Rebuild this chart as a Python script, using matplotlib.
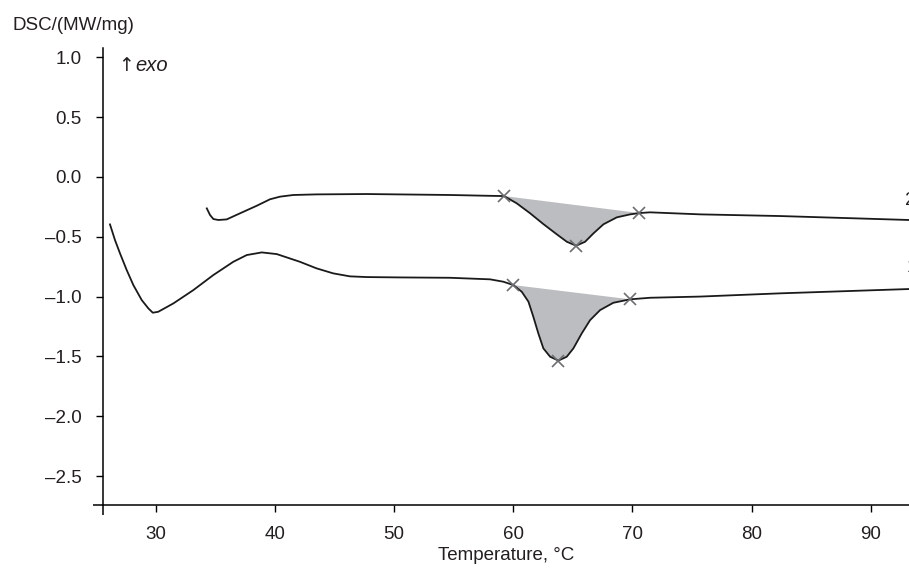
import matplotlib.pyplot as plt

# curve 2 (upper)
temp_2 = [34.3, 34.57, 34.85, 35.27, 35.97, 37.09, 38.49, 39.6, 40.44, 41.56, 43.5, 47.7, 54.7, 58.06,
          59.24, 60.3, 61.42, 62.53, 63.66, 64.5, 65.28, 66.03, 66.73, 67.57, 68.69, 69.81, 70.59,
          71.48, 75.7, 82.4, 93.2]
dsc_2 = [-0.263, -0.318, -0.352, -0.36, -0.355, -0.304, -0.241, -0.187, -0.165, -0.151, -0.146, -0.143, -0.151, -0.158,
         -0.160, -0.221, -0.304, -0.394, -0.48, -0.542, -0.575, -0.542, -0.472, -0.396, -0.338, -0.313, -0.302,
         -0.296, -0.313, -0.327, -0.36]
marks_2 = [59.24, 65.28, 70.59]

# curve 1 (lower)
temp_1 = [26.18, 26.6, 27.02, 27.58, 28.14, 28.84, 29.4, 29.77, 30.23, 31.5, 33.17, 34.85, 36.53, 37.65,
          38.91, 40.17, 42.1, 43.5, 44.9, 46.3, 47.7, 50.5, 54.7, 58.06, 59.18, 60.02, 60.72, 61.28,
          61.69, 62.11, 62.53, 63.1, 63.79, 64.49, 65.05, 65.75, 66.45, 67.29, 68.4, 69.81, 71.48,
          75.7, 82.4, 93.2]
dsc_1 = [-0.397, -0.528, -0.639, -0.778, -0.904, -1.029, -1.099, -1.135, -1.127, -1.057, -0.946, -0.82, -0.709, -0.653,
         -0.631, -0.645, -0.709, -0.764, -0.806, -0.831, -0.837, -0.84, -0.843, -0.856, -0.876, -0.904, -0.96, -1.043,
         -1.169, -1.308, -1.433, -1.503, -1.535, -1.503, -1.433, -1.308, -1.197, -1.113, -1.052, -1.023, -1.01,
         -1.0, -0.973, -0.937]
marks_1 = [60.02, 63.79, 69.81]

xticks = [30, 40, 50, 60, 70, 80, 90]
yticks = [1.0, 0.5, 0.0, -0.5, -1.0, -1.5, -2.0, -2.5]
ytick_labels = ['1.0', '0.5', '0.0', '–0.5', '–1.0', '–1.5', '–2.0', '–2.5']

FONT = ['Liberation Sans Narrow', 'Liberation Sans', 'DejaVu Sans']
TXT = '#231f20'
FS = 13.5
plt.rcParams['font.family'] = FONT

fig = plt.figure(figsize=(9.09, 5.73), dpi=100)
ax = fig.add_axes([0.113, 0.1187, 0.887, 0.797])


def draw_curve(temps, vals, marks):
    i0 = temps.index(marks[0])
    i1 = temps.index(marks[-1])
    ax.fill(temps[i0:i1 + 1], vals[i0:i1 + 1], color='#bcbdc0', lw=0, zorder=1)
    ax.plot(temps, vals, color='#1a1a1a', lw=1.3, zorder=2, solid_joinstyle='round')
    mv = [vals[temps.index(m)] for m in marks]
    ax.plot(marks, mv, 'x', color='#6d6e71', ms=8, mew=1.2, zorder=3)


draw_curve(temp_2, dsc_2, marks_2)
draw_curve(temp_1, dsc_1, marks_1)

ax.set_xlim(25.57, 93.2)
ax.set_ylim(-2.742, 1.075)

for s in ['top', 'right']:
    ax.spines[s].set_visible(False)
for s in ['left', 'bottom']:
    ax.spines[s].set_linewidth(1.1)

ax.set_xticks(xticks)
ax.set_yticks(yticks)
ax.set_yticklabels(ytick_labels)
ax.set_xticks([25.57], minor=True)
ax.set_yticks([-2.742], minor=True)
ax.tick_params(which='major', direction='out', length=5, width=1.0, labelsize=FS,
               labelcolor=TXT)
ax.tick_params(axis='x', which='major', pad=10)
ax.tick_params(axis='y', which='major', pad=10)
ax.tick_params(which='minor', direction='out', length=7.5, width=1.1)

ax.set_xlabel('Temperature, °C', fontsize=FS, color=TXT, labelpad=3)
fig.text(12 / 909, 1 - 26 / 573, 'DSC/(MW/mg)', fontsize=FS, color=TXT, va='center', ha='left')

ax.text(26.9, 0.885, '↑', fontsize=FS, color=TXT, va='baseline', family=['DejaVu Sans'])
ax.text(28.3, 0.885, 'exo', fontsize=FS + 1, color=TXT, va='baseline', style='italic')

# curve numbers cut off at the right edge, as in the original
ax.text(92.88, -0.195, '2', fontsize=FS, color=TXT, va='center', ha='left', clip_on=False)
ax.text(93.04, -0.76, '1', fontsize=FS, color=TXT, va='center', ha='left', clip_on=False)

fig.savefig('out.png', dpi=100)
